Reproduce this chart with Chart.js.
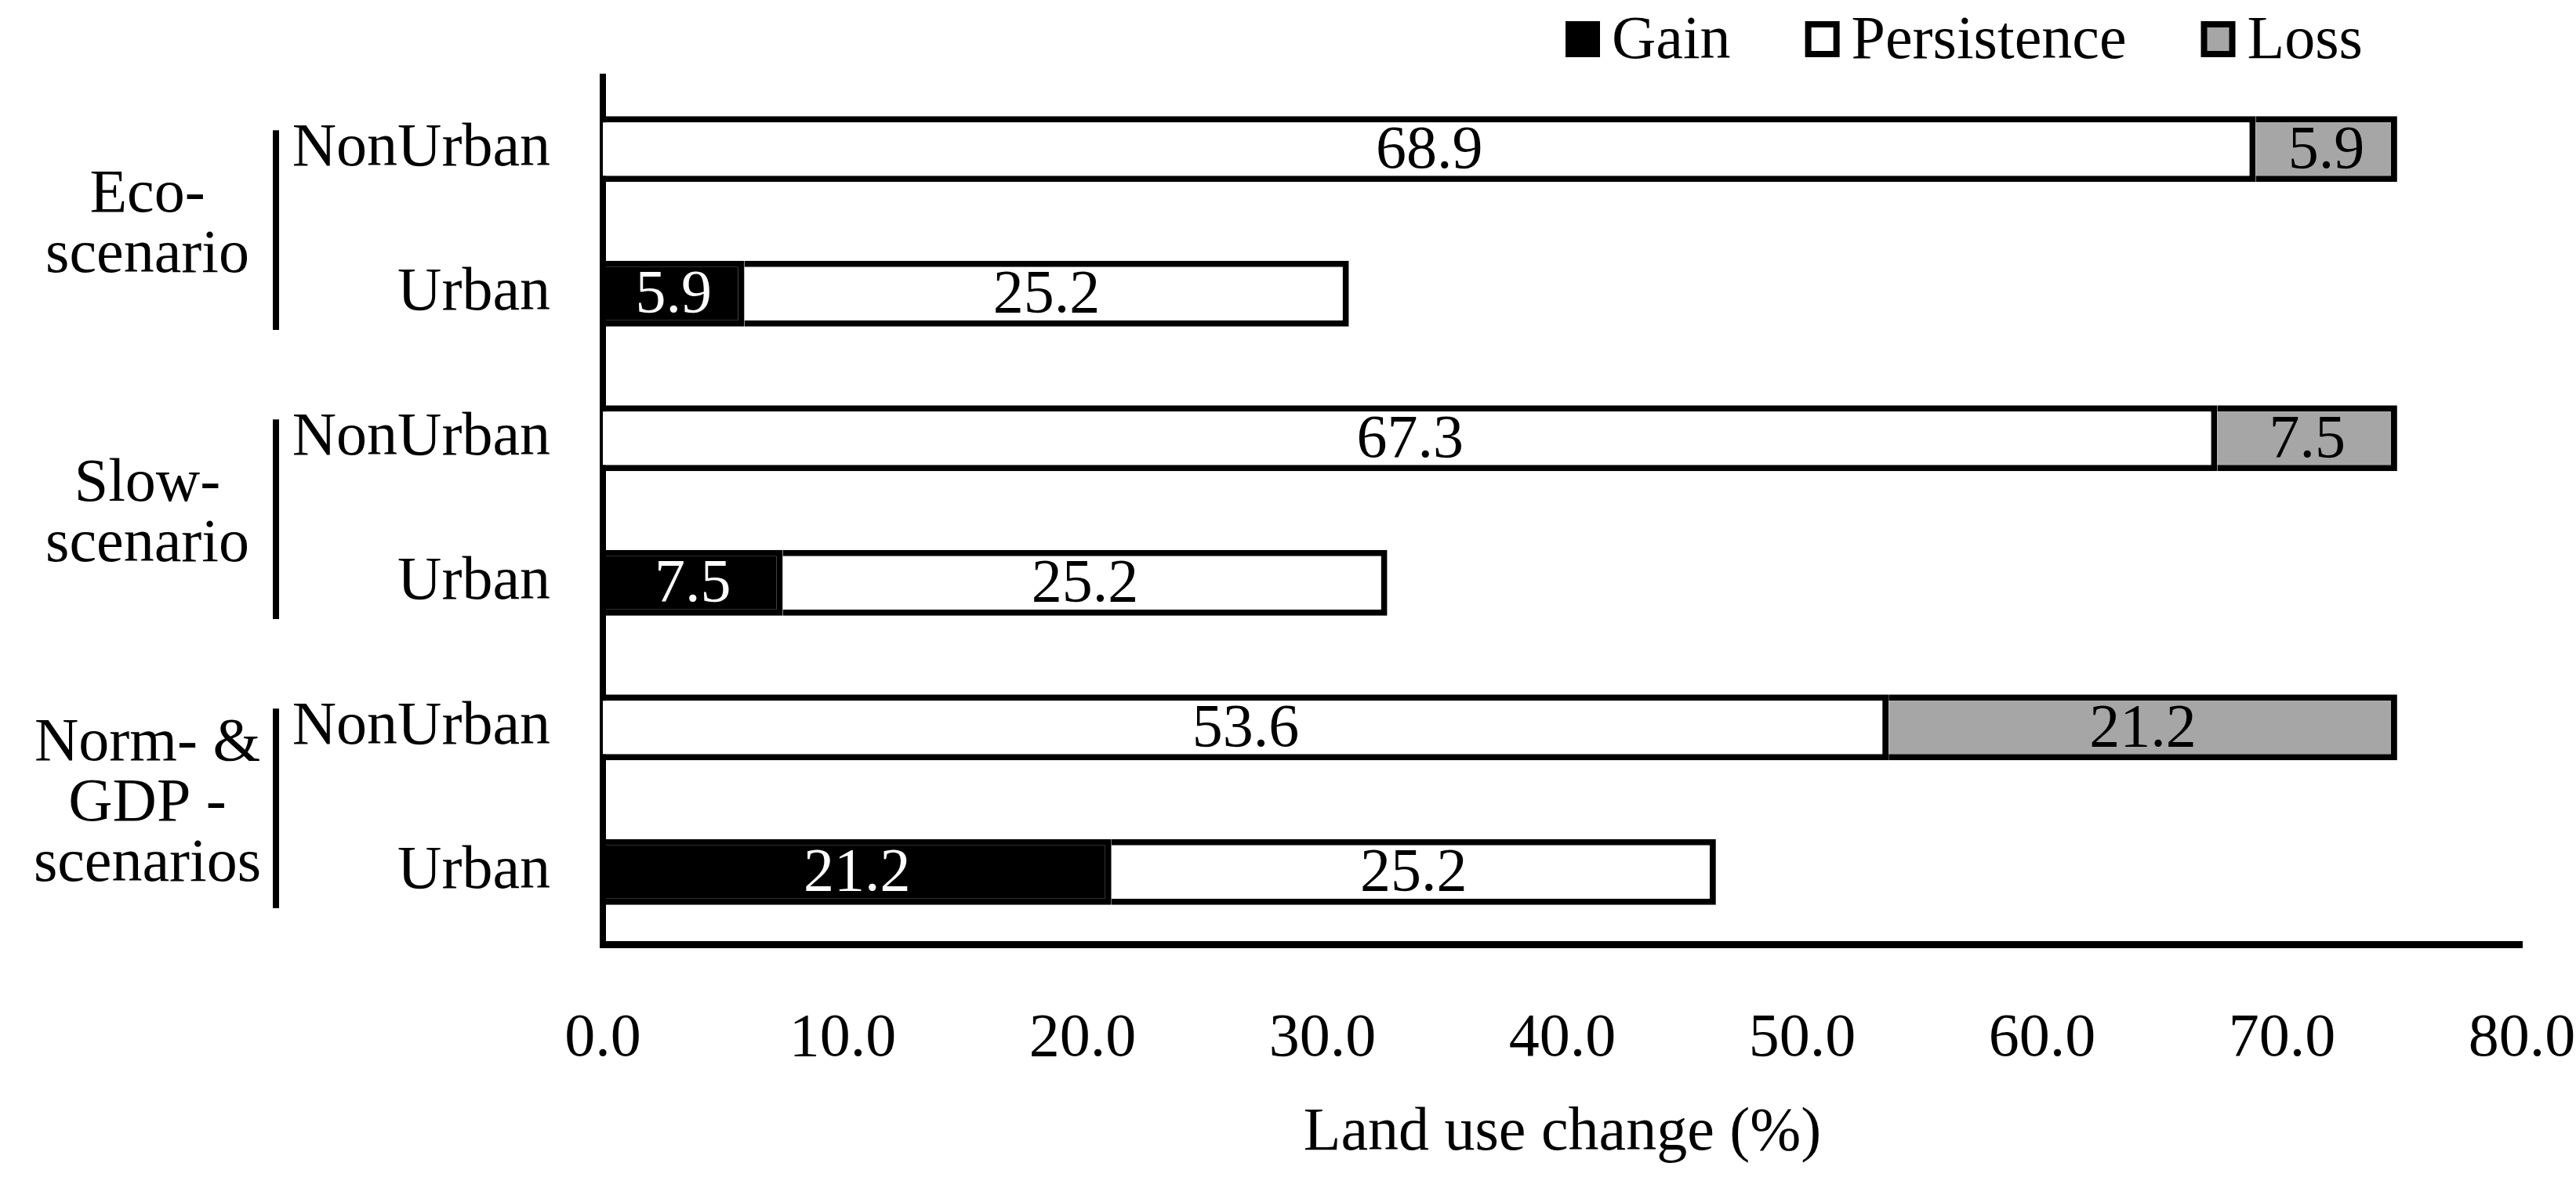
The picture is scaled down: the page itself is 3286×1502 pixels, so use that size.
<!DOCTYPE html>
<html>
<head>
<meta charset="utf-8">
<script src="https://cdn.jsdelivr.net/npm/chart.js@4.4.1/dist/chart.umd.min.js"></script>
<style>
  html, body { margin: 0; padding: 0; background: #fff; }
  canvas { display: block; }
</style>
</head>
<body>
<canvas id="landuse-chart" width="3286" height="1502"></canvas>
<script>
const FONT = '"Liberation Serif", "Times New Roman", serif';
const FONT_SIZE = 78;

// rows top to bottom, two per scenario group
const rowLabels = ['NonUrban', 'Urban', 'NonUrban', 'Urban', 'NonUrban', 'Urban'];
const groupLabels = [['Eco-', 'scenario'], ['Slow-', 'scenario'], ['Norm- &', 'GDP -', 'scenarios']];

const gainValues        = [null, 5.9, null, 7.5, null, 21.2];
const persistenceValues = [68.9, 25.2, 67.3, 25.2, 53.6, 25.2];
const lossValues        = [5.9, null, 7.5, null, 21.2, null];

const seriesNames  = ['Gain', 'Persistence', 'Loss'];
const seriesFills  = ['#000000', '#ffffff', '#a6a6a6'];
const valueColors  = ['#ffffff', '#000000', '#000000'];

const X_MIN = 0;
const X_MAX = 80;
const X_STEP = 10;

// value text in the middle of every segment
const segmentLabels = {
    id: 'segmentLabels',
    afterDatasetsDraw(chart) {
        const ctx = chart.ctx;
        ctx.save();
        ctx.font = FONT_SIZE + 'px ' + FONT;
        ctx.textAlign = 'center';
        ctx.textBaseline = 'middle';
        chart.data.datasets.forEach((ds, i) => {
            const meta = chart.getDatasetMeta(i);
            meta.data.forEach((bar, j) => {
                const v = ds.data[j];
                if (v == null) return;
                const c = bar.getCenterPoint();
                ctx.fillStyle = valueColors[i];
                ctx.fillText(v.toFixed(1), c.x, c.y + 3);
            });
        });
        ctx.restore();
    }
};

// scenario names + vertical bracket on the left
const scenarioGroups = {
    id: 'scenarioGroups',
    afterDraw(chart) {
        const ctx = chart.ctx;
        const y = chart.scales.y;
        const rowH = y.getPixelForValue(1) - y.getPixelForValue(0);
        ctx.save();
        ctx.strokeStyle = '#000';
        ctx.lineWidth = 8;
        ctx.fillStyle = '#000';
        ctx.font = FONT_SIZE + 'px ' + FONT;
        ctx.textAlign = 'center';
        ctx.textBaseline = 'alphabetic';
        groupLabels.forEach((lines, g) => {
            const mid = (y.getPixelForValue(2 * g) + y.getPixelForValue(2 * g + 1)) / 2;
            const bMid = mid + 0.06 * rowH;
            ctx.beginPath();
            ctx.moveTo(352, bMid - 0.69 * rowH);
            ctx.lineTo(352, bMid + 0.69 * rowH);
            ctx.stroke();
            const lineGap = 77;
            const first = mid - (lines.length - 1) * lineGap / 2 + 26;
            lines.forEach((t, k) => ctx.fillText(t, 188, first + k * lineGap));
        });
        ctx.restore();
    }
};

// legend at the top right
const topLegend = {
    id: 'topLegend',
    afterDraw(chart) {
        const ctx = chart.ctx;
        ctx.save();
        ctx.font = FONT_SIZE + 'px ' + FONT;
        ctx.textAlign = 'left';
        ctx.textBaseline = 'alphabetic';
        let x = 1997;
        const boxW = 44, boxH = 46, boxTop = 27, border = 8;
        chart.data.datasets.forEach(ds => {
            ctx.fillStyle = '#000';
            ctx.fillRect(x, boxTop, boxW, boxH);
            ctx.fillStyle = ds.backgroundColor;
            ctx.fillRect(x + border, boxTop + border, boxW - 2 * border, boxH - 2 * border);
            x += boxW + 15;
            ctx.fillStyle = '#000';
            ctx.fillText(ds.label, x, 74);
            x += ctx.measureText(ds.label).width + 95;
        });
        ctx.restore();
    }
};

const seriesValues = [gainValues, persistenceValues, lossValues];

function initChart() {
    const ctx = document.getElementById('landuse-chart').getContext('2d');
    new Chart(ctx, {
        type: 'bar',
        data: {
            labels: rowLabels,
            datasets: seriesNames.map((name, i) => ({
                label: name,
                data: seriesValues[i],
                backgroundColor: seriesFills[i],
                borderColor: '#000000',
                borderWidth: 8,
                barPercentage: 0.455,
                categoryPercentage: 1.0
            }))
        },
        options: {
            indexAxis: 'y',
            responsive: false,
            animation: false,
            devicePixelRatio: 1,
            layout: { padding: { top: 98, bottom: 0, left: 0, right: 0 } },
            plugins: {
                legend: { display: false },
                tooltip: { enabled: false }
            },
            scales: {
                x: {
                    stacked: true,
                    min: X_MIN,
                    max: X_MAX,
                    grid: { display: false, drawTicks: false, tickLength: 0 },
                    border: { display: true, color: '#000', width: 9 },
                    ticks: {
                        stepSize: X_STEP,
                        padding: 75,
                        maxRotation: 0,
                        color: '#000',
                        font: { family: FONT, size: FONT_SIZE },
                        callback: v => Number(v).toFixed(1)
                    },
                    title: {
                        display: true,
                        text: 'Land use change (%)',
                        color: '#000',
                        font: { family: FONT, size: FONT_SIZE },
                        padding: { top: 26, bottom: 9 }
                    },
                    afterFit: scale => {
                        scale.height = 297;
                        scale.paddingLeft = 0;
                        scale.paddingRight = 69;
                    }
                },
                y: {
                    stacked: true,
                    grid: { display: false, drawTicks: false, tickLength: 0 },
                    border: { display: true, color: '#000', width: 8 },
                    ticks: {
                        padding: 67,
                        color: '#000',
                        font: { family: FONT, size: FONT_SIZE }
                    },
                    afterFit: scale => {
                        scale.width = 769;
                        scale.paddingTop = 0;
                        scale.paddingBottom = 0;
                    }
                }
            }
        },
        plugins: [segmentLabels, scenarioGroups, topLegend]
    });
}

document.addEventListener('DOMContentLoaded', initChart);
</script>
</body>
</html>
